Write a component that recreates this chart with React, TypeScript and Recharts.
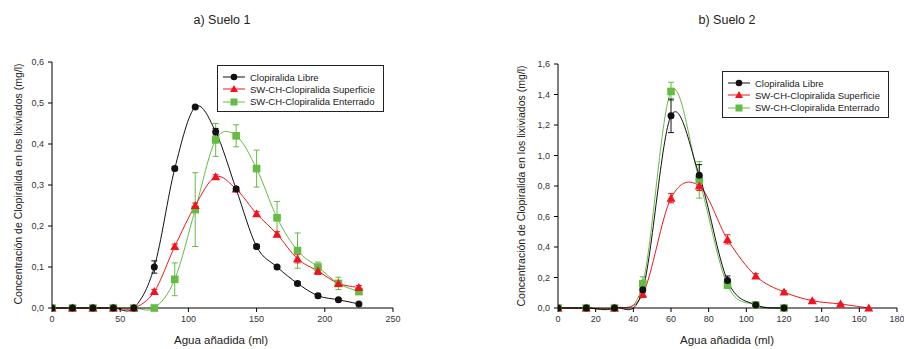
import React from "react";
import { LineChart, Line, XAxis, YAxis, ErrorBar } from "recharts";

// Suelo 1
const S1_X = [0, 15, 30, 45, 60, 75, 90, 105, 120, 135, 150, 165, 180, 195, 210, 225];
const S1_LIBRE = [0, 0, 0, 0, 0, 0.1, 0.34, 0.49, 0.43, 0.29, 0.15, 0.1, 0.06, 0.03, 0.02, 0.01];
const S1_LIBRE_ERR = [0, 0, 0, 0, 0, 0.015, 0.005, 0.003, 0.008, 0.005, 0.005, 0.004, 0.004, 0.005, 0.003, 0.002];
const S1_SUPERF = [0, 0, 0, 0, 0, 0.04, 0.15, 0.25, 0.32, 0.29, 0.23, 0.18, 0.12, 0.09, 0.06, 0.05];
const S1_SUPERF_ERR = [0, 0, 0, 0, 0, 0.005, 0.006, 0.006, 0.005, 0.005, 0.005, 0.006, 0.01, 0.008, 0.005, 0.005];
const S1_ENTERR = [0, 0, 0, 0, 0, 0, 0.07, 0.24, 0.41, 0.42, 0.34, 0.22, 0.14, 0.1, 0.06, 0.04];
const S1_ENTERR_ERR = [0, 0, 0, 0, 0, 0, 0.04, 0.09, 0.04, 0.027, 0.045, 0.04, 0.043, 0.012, 0.015, 0.005];
const S1_XTICKS = [0, 50, 100, 150, 200, 250];
const S1_YTICKS = [0, 0.1, 0.2, 0.3, 0.4, 0.5, 0.6];

// Suelo 2
const S2_X = [0, 15, 30, 45, 60, 75, 90, 105, 120];
const S2_X_SUPERF = [0, 15, 30, 45, 60, 75, 90, 105, 120, 135, 150, 165];
const S2_LIBRE = [0, 0, 0, 0.12, 1.26, 0.87, 0.18, 0.02, 0];
const S2_LIBRE_ERR = [0, 0, 0, 0.02, 0.11, 0.07, 0.03, 0.005, 0];
const S2_SUPERF = [0, 0, 0, 0.09, 0.72, 0.8, 0.45, 0.21, 0.105, 0.048, 0.026, 0];
const S2_SUPERF_ERR = [0, 0, 0, 0.02, 0.03, 0.03, 0.03, 0.015, 0.008, 0.005, 0.005, 0];
const S2_ENTERR = [0, 0, 0, 0.16, 1.42, 0.84, 0.15, 0.02, 0];
const S2_ENTERR_ERR = [0, 0, 0, 0.045, 0.06, 0.12, 0.02, 0.005, 0];
const S2_XTICKS = [0, 20, 40, 60, 80, 100, 120, 140, 160, 180];
const S2_YTICKS = [0, 0.2, 0.4, 0.6, 0.8, 1.0, 1.2, 1.4, 1.6];

const SERIES_NAMES = ["Clopiralida Libre", "SW-CH-Clopiralida Superficie", "SW-CH-Clopiralida Enterrado"];

const BLACK = "#111111";
const RED = "#f0141e";
const GREEN = "#66bb44";
const FONT = "'Liberation Sans', Arial, sans-serif";

const rows = (xs: number[], ys: number[], errs: number[]) =>
  xs.map((x, i) => ({ x, y: ys[i], err: errs[i] }));

const comma = (v: number) => v.toFixed(1).replace(".", ",");

// Catmull-Rom style spline through the points (softer than "natural")
function splineCurve(context: any) {
  let pts: number[][] = [];
  return {
    areaStart() {},
    areaEnd() {},
    lineStart() {
      pts = [];
    },
    point(x: number, y: number) {
      pts.push([+x, +y]);
    },
    lineEnd() {
      const n = pts.length;
      if (!n) return;
      context.moveTo(pts[0][0], pts[0][1]);
      for (let i = 0; i < n - 1; i++) {
        const p0 = pts[Math.max(i - 1, 0)];
        const p1 = pts[i];
        const p2 = pts[i + 1];
        const p3 = pts[Math.min(i + 2, n - 1)];
        context.bezierCurveTo(
          p1[0] + (p2[0] - p0[0]) / 6,
          p1[1] + (p2[1] - p0[1]) / 6,
          p2[0] - (p3[0] - p1[0]) / 6,
          p2[1] - (p3[1] - p1[1]) / 6,
          p2[0],
          p2[1]
        );
      }
    },
  };
}

const Circle = (p: any) => <circle key={p.index} cx={p.cx} cy={p.cy} r={3.5} fill={BLACK} />;
const Tri = (p: any) => (
  <polygon
    key={p.index}
    points={`${p.cx},${p.cy - 4.5} ${p.cx - 4.5},${p.cy + 3.5} ${p.cx + 4.5},${p.cy + 3.5}`}
    fill={RED}
  />
);
const Sq = (p: any) => <rect key={p.index} x={p.cx - 3.8} y={p.cy - 3.8} width={7.6} height={7.6} fill={GREEN} />;

function LegendBox({ left, top }: { left: number; top: number }) {
  const colors = [BLACK, RED, GREEN];
  const marks = [
    <circle cx={11} cy={5} r={3.3} fill={BLACK} />,
    <polygon points="11,1 7,8 15,8" fill={RED} />,
    <rect x={7.5} y={1.5} width={7} height={7} fill={GREEN} />,
  ];
  return (
    <div
      style={{
        position: "absolute",
        left,
        top,
        width: 167,
        height: 47,
        border: "1px solid #222",
        boxSizing: "border-box",
        paddingTop: 5,
        paddingLeft: 5,
        fontFamily: FONT,
        fontSize: 9.5,
        color: "#222",
        background: "#fff",
      }}
    >
      {SERIES_NAMES.map((n, i) => (
        <div key={n} style={{ display: "flex", alignItems: "center", height: 12.3 }}>
          <svg width={22} height={10} style={{ marginRight: 5 }}>
            <line x1={0} y1={5} x2={22} y2={5} stroke={colors[i]} strokeWidth={1} />
            {marks[i]}
          </svg>
          <span>{n}</span>
        </div>
      ))}
    </div>
  );
}

interface PanelProps {
  width: number;
  margin: { top: number; right: number; bottom: number; left: number };
  xDomain: [number, number];
  yDomain: [number, number];
  xTicks: number[];
  yTicks: number[];
  libre: any[];
  superf: any[];
  enterr: any[];
}

function Panel(p: PanelProps) {
  const tick = { fill: "#333", fontSize: 9, fontFamily: FONT };
  return (
    <LineChart width={p.width} height={349} margin={p.margin}>
      <XAxis
        dataKey="x"
        type="number"
        domain={p.xDomain}
        ticks={p.xTicks}
        interval={0}
        tick={tick}
        tickSize={4}
        tickMargin={4}
        stroke="#000"
        height={20}
        allowDataOverflow
      />
      <XAxis xAxisId="top" orientation="top" type="number" domain={p.xDomain} tick={false} tickLine={false} height={0} stroke="#000" />
      <YAxis
        type="number"
        domain={p.yDomain}
        ticks={p.yTicks}
        interval={0}
        tick={tick}
        tickFormatter={comma}
        tickSize={4}
        tickMargin={4}
        stroke="#000"
        width={30}
      />
      <YAxis yAxisId="right" orientation="right" type="number" domain={p.yDomain} tick={false} tickLine={false} width={0} stroke="#000" />
      <Line data={p.enterr} dataKey="y" type={splineCurve as any} stroke={GREEN} strokeWidth={1} dot={Sq} isAnimationActive={false}>
        <ErrorBar dataKey="err" width={3} stroke={GREEN} strokeWidth={1} direction="y" />
      </Line>
      <Line data={p.superf} dataKey="y" type={splineCurve as any} stroke={RED} strokeWidth={1} dot={Tri} isAnimationActive={false}>
        <ErrorBar dataKey="err" width={3} stroke={RED} strokeWidth={1} direction="y" />
      </Line>
      <Line data={p.libre} dataKey="y" type={splineCurve as any} stroke={BLACK} strokeWidth={1} dot={Circle} isAnimationActive={false}>
        <ErrorBar dataKey="err" width={3} stroke={BLACK} strokeWidth={1} direction="y" />
      </Line>
    </LineChart>
  );
}

const text = (extra: React.CSSProperties): React.CSSProperties => ({
  position: "absolute",
  fontFamily: FONT,
  color: "#222",
  whiteSpace: "nowrap",
  lineHeight: 1,
  ...extra,
});

export default function App() {
  return (
    <div style={{ position: "absolute", left: 0, top: 0, width: 904, height: 349, background: "#fff", overflow: "hidden" }}>
      <div style={{ position: "absolute", left: 0, top: 0 }}>
        <Panel
          width={420}
          margin={{ top: 62, right: 27, bottom: 21, left: 22 }}
          xDomain={[0, 250]}
          yDomain={[0, 0.6]}
          xTicks={S1_XTICKS}
          yTicks={S1_YTICKS}
          libre={rows(S1_X, S1_LIBRE, S1_LIBRE_ERR)}
          superf={rows(S1_X, S1_SUPERF, S1_SUPERF_ERR)}
          enterr={rows(S1_X, S1_ENTERR, S1_ENTERR_ERR)}
        />
      </div>
      <div style={{ position: "absolute", left: 450, top: 0 }}>
        <Panel
          width={454}
          margin={{ top: 64, right: 7, bottom: 21, left: 78 }}
          xDomain={[0, 180]}
          yDomain={[0, 1.6]}
          xTicks={S2_XTICKS}
          yTicks={S2_YTICKS}
          libre={rows(S2_X, S2_LIBRE, S2_LIBRE_ERR)}
          superf={rows(S2_X_SUPERF, S2_SUPERF, S2_SUPERF_ERR)}
          enterr={rows(S2_X, S2_ENTERR, S2_ENTERR_ERR)}
        />
      </div>
      <LegendBox left={217} top={65} />
      <LegendBox left={722} top={71} />
      <div style={text({ left: 222, top: 20, fontSize: 12.5, transform: "translate(-50%, -50%)" })}>a) Suelo 1</div>
      <div style={text({ left: 727, top: 20, fontSize: 12.5, transform: "translate(-50%, -50%)" })}>b) Suelo 2</div>
      <div style={text({ left: 221, top: 341, fontSize: 11.5, transform: "translate(-50%, -50%)" })}>Agua añadida (ml)</div>
      <div style={text({ left: 727, top: 341, fontSize: 11.5, transform: "translate(-50%, -50%)" })}>Agua añadida (ml)</div>
      <div style={text({ left: 18, top: 184, fontSize: 10.5, transform: "translate(-50%, -50%) rotate(-90deg)" })}>
        Concentración de Clopiralida en los lixiviados (mg/l)
      </div>
      <div style={text({ left: 521, top: 186, fontSize: 10.5, transform: "translate(-50%, -50%) rotate(-90deg)" })}>
        Concentración de Clopiralida en los lixiviados (mg/l)
      </div>
    </div>
  );
}
